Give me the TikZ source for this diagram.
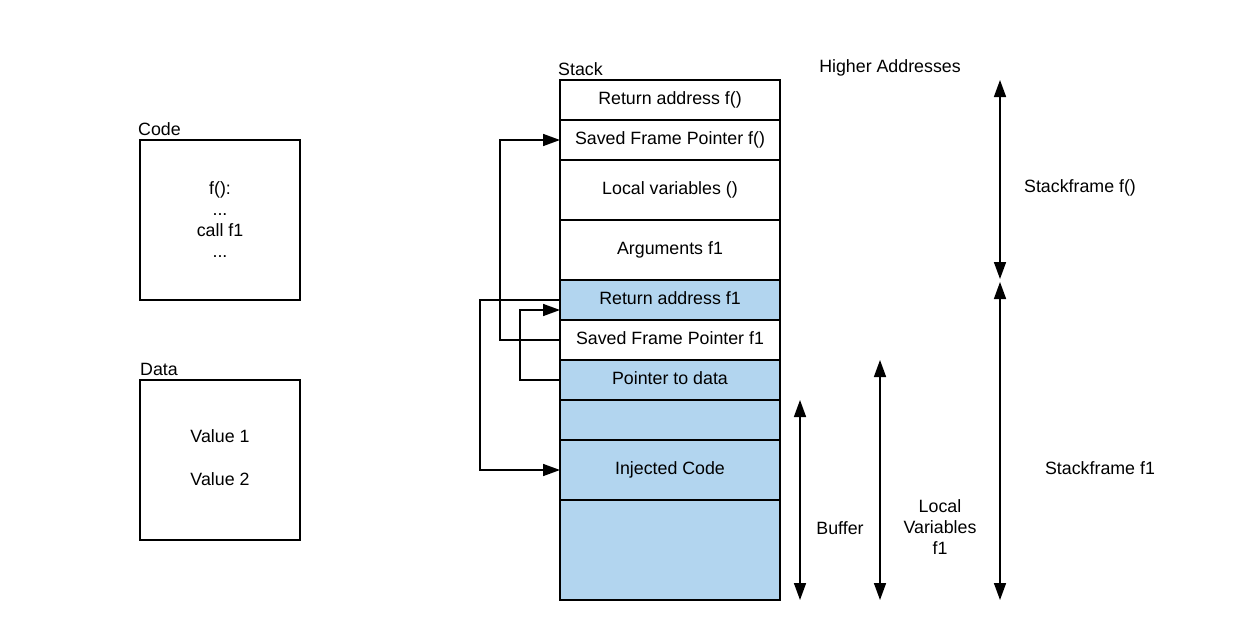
\documentclass[tikz,border=0pt]{standalone}
\usepackage{fontspec}
\setmainfont{Liberation Sans}
\usepackage{xcolor}
\usepackage{tikz}
\usetikzlibrary{arrows.meta}
\usetikzlibrary{positioning}
\definecolor{stackblue}{RGB}{178,213,239}

\tikzset{
  every node/.style={font=\fontsize{17.8}{21}\selectfont},
  stackcell/.style={draw, line width=1.6pt, minimum width=220pt,
    inner sep=0pt, outer sep=0pt, text height=13pt, text depth=4.5pt},
  memblock/.style={draw, line width=1.6pt, minimum size=160pt,
    inner sep=0pt, outer sep=0pt, align=center},
  ptr/.style={line width=1.6pt, -{Triangle[length=17pt,width=12pt]}},
  extent/.style={line width=1.6pt,
    {Triangle[length=17pt,width=12pt]}-{Triangle[length=17pt,width=12pt]}},
}

\begin{document}
\begin{tikzpicture}[x=1pt, y=-1pt]

    \useasboundingbox (0,0) rectangle (1260,640);

    % code and data
    \node [memblock] (code) at (220,220) {f():\\...\\call f1\\...};
    \node [above right=3pt and -3pt of code.north west, inner sep=1pt]
      (codelbl) {Code};
    \node [memblock, text depth=4pt] (data) at (220,460)
      {Value 1\\[22pt]Value 2};
    \node [above right=3pt and -1pt of data.north west, inner sep=1pt]
      (datalbl) {Data};

    % the stack
    \node [stackcell, minimum height=40pt, anchor=north] (retf) at (670,80)
      {Return address f()};
    \node [stackcell, minimum height=40pt, below=0pt of retf] (sfpf)
      {Saved Frame Pointer f()};
    \node [stackcell, minimum height=60pt, below=0pt of sfpf] (localf)
      {Local variables ()};
    \node [stackcell, minimum height=60pt, below=0pt of localf] (argf)
      {Arguments f1};
    \node [stackcell, minimum height=40pt, fill=stackblue, below=0pt of argf]
      (retfone) {Return address f1};
    \node [stackcell, minimum height=40pt, below=0pt of retfone] (sfpfone)
      {Saved Frame Pointer f1};
    \node [stackcell, minimum height=40pt, fill=stackblue, below=0pt of sfpfone]
      (dataptr) {Pointer to data};
    \node [stackcell, minimum height=40pt, fill=stackblue, below=0pt of dataptr]
      (bufgap) {};
    \node [stackcell, minimum height=60pt, fill=stackblue, below=0pt of bufgap]
      (injected) {Injected Code};
    \node [stackcell, minimum height=100pt, fill=stackblue, below=0pt of injected]
      (bufend) {};

    \node [above right=3pt and -3pt of retf.north west, inner sep=1pt]
      (stacklbl) {Stack};
    \node (hiaddr) at (890,68) {Higher Addresses};

    % pointers
    \draw [ptr] (sfpfone.west) -- ++(-60,0) |- (sfpf.west);
    \draw [ptr] (dataptr.west) -- ++(-40,0) |- ([yshift=-10pt]retfone.west);
    \draw [ptr] (retfone.west) -- ++(-80,0) |- (injected.west);

    % extents
    \coordinate (sftop) at (1000,80);
    \coordinate (sfmida) at (1000,279);
    \coordinate (sfmidb) at (1000,282);
    \coordinate (sfbot) at (1000,600);
    \coordinate (lvtop) at (880,360);
    \coordinate (lvbot) at (880,600);
    \coordinate (buftop) at (800,400);
    \coordinate (bufbot) at (800,600);

    \draw [extent] (sftop) -- (sfmida);
    \draw [extent] (sfmidb) -- (sfbot);
    \draw [extent] (lvtop) -- (lvbot);
    \draw [extent] (buftop) -- (bufbot);

    \node (sfflbl) at (1080,188) {Stackframe f()};
    \node (sfonelbl) at (1100,468) {Stackframe f1};
    \node (buflbl) at (840,528) {Buffer};
    \node [align=center] (lvlbl) at (940,527) {Local\\Variables\\f1};

\end{tikzpicture}
\end{document}
